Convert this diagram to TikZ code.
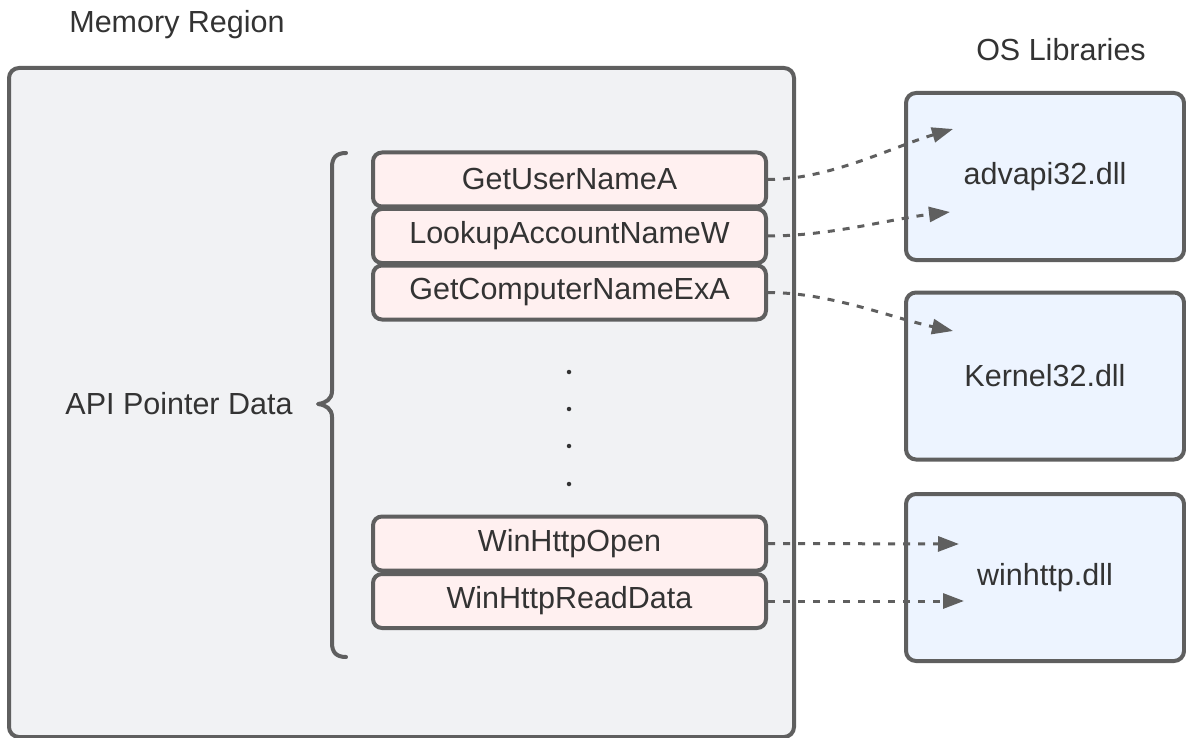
\documentclass[tikz,border=0pt]{standalone}
\usepackage{fontspec}
\setmainfont{Liberation Sans}
\usetikzlibrary{arrows.meta}
\definecolor{strokec}{HTML}{5F5F5F}
\definecolor{textc}{HTML}{333333}
\definecolor{memfill}{HTML}{F1F2F4}
\definecolor{pinkfill}{HTML}{FFF0F0}
\definecolor{bluefill}{HTML}{EDF4FF}
\begin{document}
\begin{tikzpicture}[x=1pt,y=-1pt,
  lbl/.style={text=textc,font=\fontsize{30.5}{36}\selectfont,inner sep=0pt},
  apibox/.style={draw=strokec,line width=4pt,fill=pinkfill,rounded corners=9pt,
    minimum width=393pt,minimum height=54pt,inner sep=0pt,text=textc,
    font=\fontsize{30.5}{36}\selectfont},
  libbox/.style={draw=strokec,line width=4pt,fill=bluefill,rounded corners=10pt,
    minimum width=278pt,minimum height=167pt,inner sep=0pt,text=textc,
    font=\fontsize{30.5}{36}\selectfont},
  link/.style={draw=strokec,line width=3pt,dash pattern=on 7pt off 8pt,
    -{Triangle[length=21pt,width=15pt,fill=strokec]}},
  dotc/.style={circle,fill=textc,inner sep=0pt,minimum size=4.5pt}]
\useasboundingbox (0,0) rectangle (1186,738);
% memory region
\node[lbl] (memtitle) at (177,25) {Memory Region};
\draw[draw=strokec,line width=4pt,fill=memfill,rounded corners=10pt] (9,68) rectangle (794,737);
\node[lbl] (ostitle) at (1061,50) {OS Libraries};
% API boxes
\node[apibox] (gu) at (569.5,179.5) {GetUserNameA};
\node[apibox] (la) at (569.5,236) {LookupAccountNameW};
\node[apibox] (gc) at (569.5,292.5) {GetComputerNameExA};
\node[apibox] (wo) at (569.5,543.5) {WinHttpOpen};
\node[apibox] (wr) at (569.5,601) {WinHttpReadData};
% dots
\node[dotc] (d1) at (569,372) {};
\node[dotc] (d2) at (569,409) {};
\node[dotc] (d3) at (569,446) {};
\node[dotc] (d4) at (569,484) {};
% brace
\draw[strokec,line width=4pt,line cap=round,line join=round]
  (346,153) .. controls (336,153) and (332,158) .. (332,167) -- (332,391)
  .. controls (332,399) and (326,403) .. (318,404)
  .. controls (326,405) and (332,409) .. (332,417) -- (332,643)
  .. controls (332,652) and (336,657) .. (346,657);
\node[lbl] (api) at (179,404) {API Pointer Data};
% libraries
\node[libbox] (adv) at (1045,176.5) {advapi32.dll};
\node[libbox] (ker) at (1045,376) {Kernel32.dll};
\node[libbox] (win) at (1045,577.5) {winhttp.dll};
% connectors
\coordinate (t1) at (953,129);
\coordinate (t2) at (950,212);
\coordinate (t3) at (953,331);
\coordinate (t4) at (959,544);
\coordinate (t5) at (964,601);
\draw[link] (gu.east) .. controls (830,179.5) and (892,147) .. (t1);
\draw[link] (la.east) .. controls (830,236) and (890,219) .. (t2);
\draw[link] (gc.east) .. controls (830,292.5) and (892,318) .. (t3);
\draw[link] (wo.east) -- (t4);
\draw[link] (wr.east) -- (t5);
\end{tikzpicture}
\end{document}
